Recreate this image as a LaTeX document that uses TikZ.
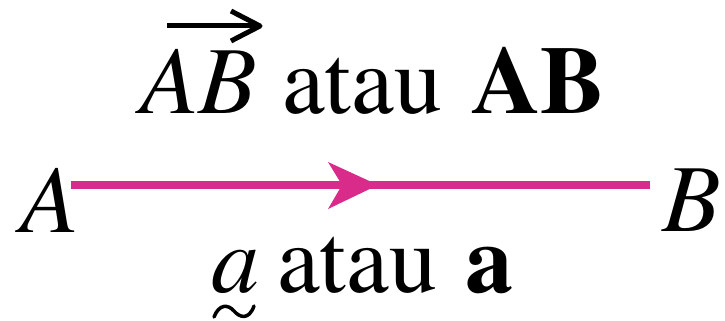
\documentclass[tikz,border=0pt]{standalone}
\usepackage{fontspec}
\setmainfont{texgyretermes}[Extension=.otf,UprightFont=*-regular,BoldFont=*-bold,ItalicFont=*-italic,BoldItalicFont=*-bolditalic]
\definecolor{vecmag}{RGB}{217,43,138}
\begin{document}
\begin{tikzpicture}[x=1pt,y=-1pt,
  lbl/.style={inner sep=0pt,anchor=base west,font=\rmfamily\fontsize{96}{100}\selectfont},
  vecline/.style={draw=vecmag,line width=8pt},
  vechead/.style={fill=vecmag},
  overarrow/.style={draw=black,line width=5pt}]
\useasboundingbox (0,0) rectangle (725,321);
% top label
\node[lbl] (topvec) at (140,113) {\textit{AB}};
\node[lbl] (topor) at (282,113) {atau};
\node[lbl] (topbold) at (471,113) {\textbf{AB}};
\draw[overarrow] (167,26) -- (258,26);
\draw[overarrow,line join=round,line cap=butt] (231,11) -- (260,26) -- (231,41);
% end points
\node[lbl] (A) at (20,232) {\textit{A}};
\node[lbl] (B) at (662,231) {\textit{B}};
\coordinate (s) at (71,185);
\coordinate (e) at (650,185);
\draw[vecline] (s) -- (e);
\fill[vechead] (378,185) -- (328,162) -- (342,185) -- (328,209) -- cycle;
% bottom label
\node[lbl] (bota) at (211,292) {\textit{a}};
\node[lbl] (botor) at (277,292) {atau};
\node[lbl] (botbold) at (465,292) {\textbf{a}};
\draw[line width=3.5pt,line cap=round] (214,317) .. controls (219,304) and (228,304) .. (234,311) .. controls (240,318) and (249,320) .. (254,306);
\end{tikzpicture}
\end{document}
